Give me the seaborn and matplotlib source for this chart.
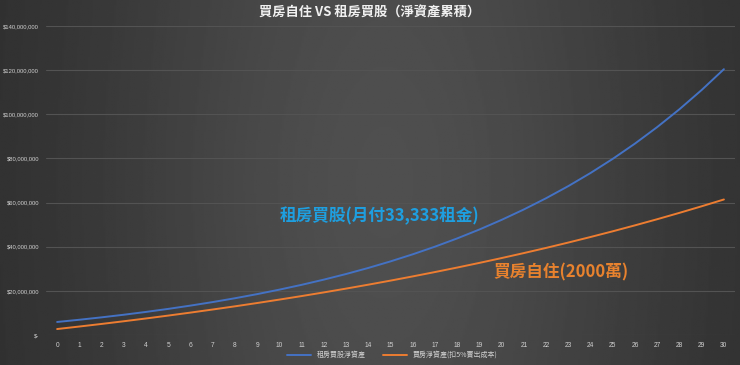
import numpy as np
import pandas as pd
import matplotlib
matplotlib.use("Agg")
import matplotlib.pyplot as plt
import seaborn as sns
from matplotlib.lines import Line2D

years = list(range(31))
# 租房買股淨資產 (NT$ million)
rent_invest = [5.90, 6.91, 8.00, 9.18, 10.46, 11.83, 13.32, 14.92, 16.65, 18.52,
               20.55, 22.73, 25.09, 27.63, 30.38, 33.35, 36.56, 40.02, 43.76, 47.80,
               52.17, 56.88, 61.97, 67.46, 73.40, 79.81, 86.73, 94.21, 102.28, 111.01,
               120.43]
# 買房淨資產(扣5%賣出成本) (NT$ million)
buy_house = [2.70, 3.84, 5.01, 6.23, 7.49, 8.80, 10.15, 11.55, 12.99, 14.49,
             16.04, 17.64, 19.30, 21.02, 22.80, 24.64, 26.55, 28.52, 30.56, 32.67,
             34.86, 37.12, 39.46, 41.89, 44.40, 46.99, 49.68, 52.46, 55.34, 58.32,
             61.40]
series_names = ["租房買股淨資產", "買房淨資產(扣5%賣出成本)"]
y_ticks = [0, 20, 40, 60, 80, 100, 120, 140]

df = pd.DataFrame({
    "year": years * 2,
    "value": [v * 1e6 for v in rent_invest] + [v * 1e6 for v in buy_house],
    "series": [series_names[0]] * 31 + [series_names[1]] * 31,
})

sns.set_style("white")
plt.rcParams["font.family"] = ["Noto Sans CJK TC", "DejaVu Sans"]
tick_font = ["Liberation Sans", "DejaVu Sans"]

fig = plt.figure(figsize=(7.4, 3.65), dpi=100)

# dark gradient background
bg = fig.add_axes([0, 0, 1, 1], zorder=-10)
gx = np.linspace(0, 1, 400)
gy = np.linspace(0, 1, 200)
X, Y = np.meshgrid(gx, gy)
shade = 0.17 + 0.14 * np.exp(-((X - 0.52) / 0.40) ** 2) * (0.85 + 0.15 * np.exp(-((Y - 0.5) / 0.6) ** 2))
bg.imshow(shade, cmap="gray", vmin=0, vmax=1, aspect="auto", extent=[0, 1, 0, 1])
bg.axis("off")

ax = fig.add_axes([46 / 740, 1 - 335 / 365, (735 - 46) / 740, (335 - 26) / 365])
ax.patch.set_alpha(0)

palette = {series_names[0]: "#4472C4", series_names[1]: "#ED7D31"}
sns.lineplot(data=df, x="year", y="value", hue="series", palette=palette,
             linewidth=1.4, ax=ax, legend=False)

ax.set_xlim(-0.5, 30.5)
ax.set_ylim(0, 140e6)
ax.set_xticks(years)
ax.set_xticklabels([str(y) for y in years], fontsize=4.8, color="#d0d0d0", family=tick_font)
ax.set_yticks([t * 1e6 for t in y_ticks])
ax.set_yticklabels(["$-" if t == 0 else f"${t * 1e6:,.0f}" for t in y_ticks],
                   fontsize=4.2, color="#d0d0d0", family=tick_font)
ax.tick_params(axis="y", length=0, pad=5)
ax.tick_params(axis="x", length=0, pad=5)
ax.grid(axis="y", color="#535353", linewidth=0.8)
ax.set_axisbelow(True)
for s in ax.spines.values():
    s.set_visible(False)
ax.set_xlabel("")
ax.set_ylabel("")

ax.text(14.5, 54e6, "租房買股(月付33,333租金)", color="#1E9FE0", fontsize=12,
        fontweight="bold", ha="center", va="center")
ax.text(22.65, 28.5e6, "買房自住(2000萬)", color="#E8822E", fontsize=12,
        fontweight="bold", ha="center", va="center")

handles = [Line2D([], [], color=palette[n], linewidth=1.4) for n in series_names]
leg = fig.legend(handles, series_names, loc="center", bbox_to_anchor=(0.53, 1 - 355 / 365),
                 ncol=2, frameon=False, fontsize=5, handlelength=3.5, columnspacing=2.5)
for t in leg.get_texts():
    t.set_color("#d0d0d0")

fig.text(0.5, 1 - 13 / 365, "買房自住 VS 租房買股（淨資產累積）", ha="center", va="center",
         fontsize=9.5, fontweight="bold", color="#f0f0f0")

fig.savefig("out.png", dpi=100)
